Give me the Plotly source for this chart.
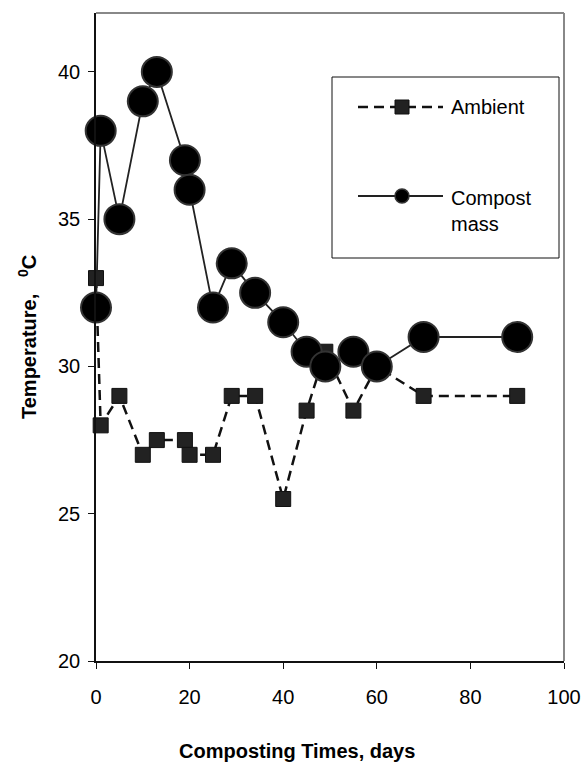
import plotly.graph_objects as go

# ---- data ----
days = [0, 1, 5, 10, 13, 19, 20, 25, 29, 34, 40, 45, 49, 55, 60, 70, 90]
ambient = [33, 28, 29, 27, 27.5, 27.5, 27, 27, 29, 29, 25.5, 28.5, 30.5, 28.5, 30, 29, 29]
compost = [32, 38, 35, 39, 40, 37, 36, 32, 33.5, 32.5, 31.5, 30.5, 30, 30.5, 30, 31, 31]
x_ticks = [0, 20, 40, 60, 80, 100]
y_ticks = [20, 25, 30, 35, 40]

W, H = 588, 762
L, R, T, B = 96, 24, 13, 101
PW, PH = W - L - R, H - T - B

def px(x):
    return (x - L) / PW

def py(y):
    return (H - B - y) / PH

FONT = "Liberation Sans, Arial, sans-serif"

fig = go.Figure()
fig.add_trace(go.Scatter(
    x=days, y=ambient, mode="lines+markers", name="Ambient",
    line=dict(color="#111111", width=2.5, dash="10px,6px"),
    marker=dict(symbol="square", size=15, color="#222222",
                line=dict(color="#111111", width=1)),
    cliponaxis=False, showlegend=False))
fig.add_trace(go.Scatter(
    x=days, y=compost, mode="lines+markers", name="Compost mass",
    line=dict(color="#222222", width=1.8),
    marker=dict(symbol="circle", size=30, color="#000000",
                line=dict(color="#333333", width=2)),
    cliponaxis=False, showlegend=False))

shapes = [
    # top and right frame (gray)
    dict(type="line", xref="paper", yref="paper", x0=0, x1=1, y0=1, y1=1,
         line=dict(color="#888888", width=2)),
    dict(type="line", xref="paper", yref="paper", x0=1, x1=1, y0=0, y1=1,
         line=dict(color="#888888", width=2)),
    # legend box
    dict(type="rect", xref="paper", yref="paper", x0=px(332), x1=px(559),
         y0=py(258), y1=py(77), line=dict(color="#111111", width=1),
         fillcolor="white", layer="above"),
    dict(type="line", xref="paper", yref="paper", x0=px(358), x1=px(443),
         y0=py(107), y1=py(107), line=dict(color="#111111", width=2.5, dash="10px,6px"),
         layer="above"),
    dict(type="rect", xref="paper", yref="paper", x0=px(395), x1=px(409),
         y0=py(114), y1=py(100), fillcolor="#222222", line=dict(color="#111111", width=1),
         layer="above"),
    dict(type="line", xref="paper", yref="paper", x0=px(358), x1=px(443),
         y0=py(196), y1=py(196), line=dict(color="#222222", width=1.8), layer="above"),
    dict(type="circle", xref="paper", yref="paper", x0=px(395), x1=px(409),
         y0=py(203), y1=py(189), fillcolor="#000000", line=dict(color="#333333", width=1.5),
         layer="above"),
]

annotations = [
    dict(text="Ambient", xref="paper", yref="paper", x=px(449), y=py(107),
         xanchor="left", yanchor="middle", showarrow=False,
         font=dict(family=FONT, size=20, color="black")),
    dict(text="Compost<br>mass", xref="paper", yref="paper", x=px(449), y=py(211),
         xanchor="left", yanchor="middle", align="left", showarrow=False,
         font=dict(family=FONT, size=20, color="black")),
    dict(text="<b>Composting Times, days</b>", xref="paper", yref="paper",
         x=px(297), y=py(751), xanchor="center", yanchor="middle", showarrow=False,
         font=dict(family=FONT, size=20, color="black")),
    dict(text="<b>Temperature,   <sup>0</sup>C</b>", xref="paper", yref="paper",
         x=px(27), y=py(337), xanchor="center", yanchor="middle", textangle=-90,
         showarrow=False, font=dict(family=FONT, size=20, color="black")),
]

fig.update_layout(
    width=W, height=H,
    margin=dict(l=L, r=R, t=T, b=B, autoexpand=False),
    paper_bgcolor="white", plot_bgcolor="white",
    showlegend=False,
    shapes=shapes, annotations=annotations,
    font=dict(family=FONT, size=20, color="black"),
)
fig.update_xaxes(range=[0, 100], tickvals=x_ticks, ticktext=[str(v) for v in x_ticks],
                 showgrid=False, zeroline=False, showline=True, linecolor="#111111",
                 linewidth=1.5, ticks="outside", ticklen=6, tickcolor="#111111",
                 tickwidth=1.2, ticklabelstandoff=11, automargin=False,
                 tickfont=dict(family=FONT, size=20, color="black"))
fig.update_yaxes(range=[20, 42], tickvals=y_ticks, ticktext=[str(v) for v in y_ticks],
                 showgrid=False, zeroline=False, showline=True, linecolor="#111111",
                 linewidth=1.5, ticks="outside", ticklen=6, tickcolor="#111111",
                 tickwidth=1.2, ticklabelstandoff=4, automargin=False,
                 tickfont=dict(family=FONT, size=20, color="black"))

fig.write_html("out.html")
